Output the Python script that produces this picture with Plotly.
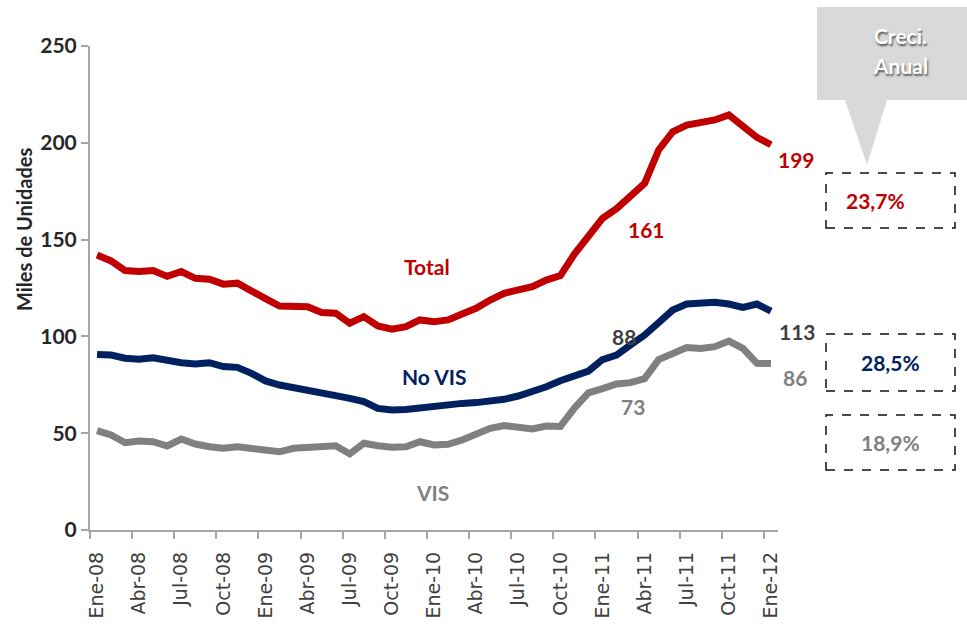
"""Ventas de vivienda: Total, No VIS y VIS (miles de unidades)."""
import plotly.graph_objects as go

# monthly series Ene-08 .. Ene-12
total = [142, 139, 134, 133.5, 134, 131, 133.5, 130, 129.5, 127, 127.5, 123,
         119.5, 115.7, 115.9, 115.3, 112.3, 112, 106.8, 110.2, 105.4, 103.7, 105, 108.5,
         107.6, 108.5, 111.6, 114.5, 118.8, 122.3, 124, 125.7, 129.1, 131.4, 142.5, 152.4,
         161, 166, 172, 179, 196.3, 205.7, 209.2, 210.6, 211.8, 214.4, 208, 202.8,
         199]
no_vis = [90.7, 90.4, 88.7, 88.2, 89, 87.5, 86.4, 85.7, 86.4, 84.4, 84, 80.9,
          77, 74.9, 73.7, 72.7, 70.6, 69.4, 68, 66.3, 62.8, 62, 62.3, 63.2,
          64, 64.6, 65.4, 65.8, 66.3, 67.5, 69.2, 71.4, 74, 77.1, 79.5, 82.1,
          88, 90.4, 95.6, 100.7, 107.1, 113.6, 116.7, 117.6, 117.6, 116.7, 115, 116.7,
          113]
vis = [51.3, 49.1, 45.1, 46, 45.6, 43.4, 47, 44.4, 43, 42.2, 43, 42.2,
       42, 40.4, 42.2, 42.7, 42.7, 43.5, 39.3, 44.8, 43.5, 42.7, 43, 45.6,
       43.9, 44.3, 46.5, 49.1, 52.5, 53.9, 53.4, 52.2, 53.7, 53.5, 63, 70.8,
       73, 75.4, 76.1, 78.2, 88, 91.3, 94.2, 93.8, 94.7, 97.6, 93.8, 86.1,
       86]
tick_labels = ["Ene-08", "Abr-08", "Jul-08", "Oct-08", "Ene-09", "Abr-09", "Jul-09",
               "Oct-09", "Ene-10", "Abr-10", "Jul-10", "Oct-10", "Ene-11", "Abr-11",
               "Jul-11", "Oct-11", "Ene-12"]
growth = ["23,7%", "28,5%", "18,9%"]

RED, NAVY, GRAY, DARK = "#C00000", "#002060", "#808080", "#404040"
AXIS = "#A6A6A6"
W, H = 967, 626
L, R, T, B = 90, 189, 46, 96
PW, PH = W - L - R, H - T - B


def fx(p):
    return (p - L) / PW


def fy(p):
    return (H - B - p) / PH


x = list(range(len(total)))
fig = go.Figure()
# VIS sits on the overlay axis that carries the month labels
for ys, c, xa in [(vis, GRAY, "x2"), (no_vis, NAVY, "x"), (total, RED, "x")]:
    fig.add_trace(go.Scatter(x=x, y=ys, mode="lines", line=dict(color=c, width=7),
                             showlegend=False, xaxis=xa))


def label(text, px_, py_, color, size=21, **kw):
    fig.add_annotation(x=fx(px_), y=fy(py_), xref="paper", yref="paper", text=text, showarrow=False,
                       xanchor="center", yanchor="middle",
                       font=dict(family="Lato", size=size, color=color, weight="bold", **kw))


label("Total", 427, 266, RED)
label("No VIS", 434, 376, NAVY)
label("VIS", 432, 492, GRAY)
label(str(round(total[36])), 646, 229, RED)
label(str(round(no_vis[36])), 624, 336, DARK)
label(str(round(vis[36])), 633, 406, GRAY)
label(str(round(total[-1])), 796, 159, RED)
label(str(round(no_vis[-1])), 797, 331, DARK)
label(str(round(vis[-1])), 795, 377, GRAY)

# callout "Creci. Anual"
fig.add_shape(type="path", xref="paper", yref="paper", fillcolor="#D9D9D9", line=dict(width=0),
              path=(f"M {fx(817)},{fy(7)} L {fx(967)},{fy(7)} L {fx(967)},{fy(100)} L {fx(887)},{fy(100)} "
                    f"L {fx(867)},{fy(165)} L {fx(845)},{fy(100)} L {fx(817)},{fy(100)} Z"))
label("Creci.", 900, 35, "white", 21, shadow="1px 2px 2px #555")
label("Anual", 900, 65, "white", 21, shadow="1px 2px 2px #555")

for (top, bot, tx), txt, c in zip([(173, 228, 875), (334, 391, 890), (415, 470, 890)], growth, [RED, NAVY, GRAY]):
    fig.add_shape(type="rect", xref="paper", yref="paper", x0=fx(826), x1=fx(955), y0=fy(bot), y1=fy(top),
                  line=dict(color="#111", width=1.5, dash="dash"))
    label(txt, tx, (top + bot) / 2, c)

label("Miles de Unidades", 24, 230, "#262626", 20)
fig.layout.annotations[-1].textangle = -90

fig.update_layout(
    width=W, height=H, margin=dict(l=L, r=R, t=T, b=B),
    plot_bgcolor="white", paper_bgcolor="white",
    # tick marks sit on category boundaries
    xaxis=dict(range=[-0.5, 48.5], tickvals=[3 * k - 0.5 for k in range(len(tick_labels))],
               showticklabels=False, ticks="outside", ticklen=7, tickcolor=AXIS, tickwidth=2,
               showgrid=False, zeroline=False, showline=True, linecolor=AXIS, linewidth=2,
               automargin=False),
    # labels centred on the months
    xaxis2=dict(matches="x", overlaying="x", anchor="y", side="bottom",
                tickvals=[3 * k for k in range(len(tick_labels))], ticktext=tick_labels,
                tickangle=-90, ticks="", ticklabelstandoff=17, showgrid=False, zeroline=False,
                showline=False, automargin=False,
                tickfont=dict(family="DejaVu Sans", size=19, color=DARK)),
    yaxis=dict(range=[0, 250], tickvals=[0, 50, 100, 150, 200, 250], ticks="outside", ticklen=7,
               tickcolor=AXIS, tickwidth=2, showgrid=False, zeroline=False, showline=True,
               linecolor=AXIS, linewidth=2, automargin=False,
               tickfont=dict(family="Lato", size=21, color="#262626", weight="bold")),
)
fig.write_html("out.html", config={"displayModeBar": False},
               post_script="document.body.style.margin='0';")
